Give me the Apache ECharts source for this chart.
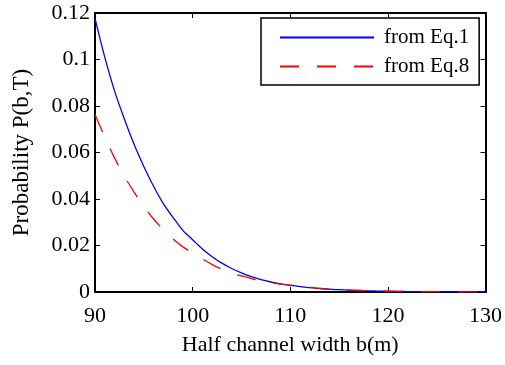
<!DOCTYPE html>
<html>
<head>
<meta charset="utf-8">
<script src="https://cdn.jsdelivr.net/npm/echarts@6/dist/echarts.min.js"></script>
<style>
  html, body { margin: 0; padding: 0; background: #fff; }
  #chart { width: 505px; height: 365px; }
</style>
</head>
<body>
<div id="chart"></div>
<script>
// half channel width b (m)
const bValues = [90, 91, 92, 93, 94, 95, 96, 97, 98, 99, 100, 101, 102, 103, 104, 105, 106, 107, 108, 109, 110,
  111, 112, 113, 114, 115, 116, 117, 118, 119, 120, 121, 122, 123, 124, 125, 126, 127, 128, 129, 130];
// P(b,T) from Eq.1
const eq1Values = [0.1177, 0.101, 0.0865, 0.0745, 0.0635, 0.054, 0.0455, 0.038, 0.032, 0.0265, 0.0225,
  0.0185, 0.0152, 0.0124, 0.0101, 0.0082, 0.0066, 0.0053, 0.0043, 0.0035, 0.0029,
  0.0023, 0.0019, 0.0015, 0.0012, 0.001, 0.0008, 0.00065, 0.0005, 0.0004, 0.0003,
  0.00024, 0.00019, 0.00015, 0.00012, 0.0001, 0.00008, 0.00006, 0.00005, 0.00004, 0.00003];
// P(b,T) from Eq.8
const eq8Values = [0.0763, 0.0667, 0.0577, 0.0498, 0.043, 0.0368, 0.0314, 0.0268, 0.0228, 0.0194, 0.0167,
  0.0142, 0.0118, 0.0098, 0.0081, 0.0069, 0.0058, 0.0049, 0.0041, 0.0034, 0.0029,
  0.0024, 0.002, 0.0016, 0.0013, 0.0011, 0.0009, 0.0007, 0.0006, 0.0005, 0.0004,
  0.0003, 0.00025, 0.0002, 0.00016, 0.00013, 0.0001, 0.00008, 0.00007, 0.00005, 0.00004];
const seriesNames = ['from Eq.1', 'from Eq.8'];

const font = 'Liberation Serif';
const fontSize = 21;
const nameSize = 22;

const toPairs = (ys) => bValues.map((b, i) => [b, ys[i]]);

const chart = echarts.init(document.getElementById('chart'), null, { renderer: 'canvas' });

const axisBox = { show: true, onZero: false, lineStyle: { color: '#000', width: 2 } };
const innerTick = { show: true, inside: true, length: 5, lineStyle: { color: '#000', width: 1 } };

const option = {
  animation: false,
  backgroundColor: '#fff',
  textStyle: { fontFamily: font },
  grid: { left: 95, top: 13, right: 16, bottom: 73 },
  legend: {
    left: 261,
    top: 18,
    orient: 'vertical',
    data: seriesNames.map((name) => ({ name, itemStyle: { opacity: 0 } })),
    itemWidth: 94,
    itemHeight: 14,
    itemGap: 8,
    padding: [9, 10, 8, 18],
    borderColor: '#000',
    borderWidth: 1.5,
    textStyle: { fontFamily: font, fontSize: fontSize, color: '#000', padding: [0, 0, 0, 5] },
  },
  xAxis: [
    {
      type: 'value',
      min: 90,
      max: 130,
      interval: 10,
      name: 'Half channel width b(m)',
      nameLocation: 'middle',
      nameGap: 42,
      nameTextStyle: { fontFamily: font, fontSize: nameSize, color: '#000' },
      axisLine: axisBox,
      axisTick: innerTick,
      axisLabel: { fontFamily: font, fontSize: nameSize, color: '#000', margin: 13 },
      splitLine: { show: false },
    },
    {
      type: 'value',
      position: 'top',
      min: 90,
      max: 130,
      interval: 10,
      axisLine: axisBox,
      axisTick: innerTick,
      axisLabel: { show: false },
      splitLine: { show: false },
    },
  ],
  yAxis: [
    {
      type: 'value',
      min: 0,
      max: 0.12,
      interval: 0.02,
      name: 'Probability P(b,T)',
      nameLocation: 'middle',
      nameGap: 62,
      nameTextStyle: { fontFamily: font, fontSize: 23, color: '#000' },
      axisLine: axisBox,
      axisTick: innerTick,
      axisLabel: { fontFamily: font, fontSize: nameSize, color: '#000', margin: 5 },
      splitLine: { show: false },
    },
    {
      type: 'value',
      position: 'right',
      min: 0,
      max: 0.12,
      interval: 0.02,
      axisLine: axisBox,
      axisTick: innerTick,
      axisLabel: { show: false },
      splitLine: { show: false },
    },
  ],
  series: [
    {
      name: seriesNames[0],
      type: 'line',
      data: toPairs(eq1Values),
      smooth: 0.3,
      symbol: 'none',
      itemStyle: { color: '#0000ff' },
      lineStyle: { color: '#0000ff', width: 1.3 },
      z: 3,
    },
    {
      name: seriesNames[1],
      type: 'line',
      data: toPairs(eq8Values),
      smooth: 0.3,
      symbol: 'none',
      itemStyle: { color: '#ff0000' },
      lineStyle: { color: '#ff0000', width: 1.3, type: [19, 18] },
      z: 4,
    },
  ],
};

chart.setOption(option);
</script>
</body>
</html>
